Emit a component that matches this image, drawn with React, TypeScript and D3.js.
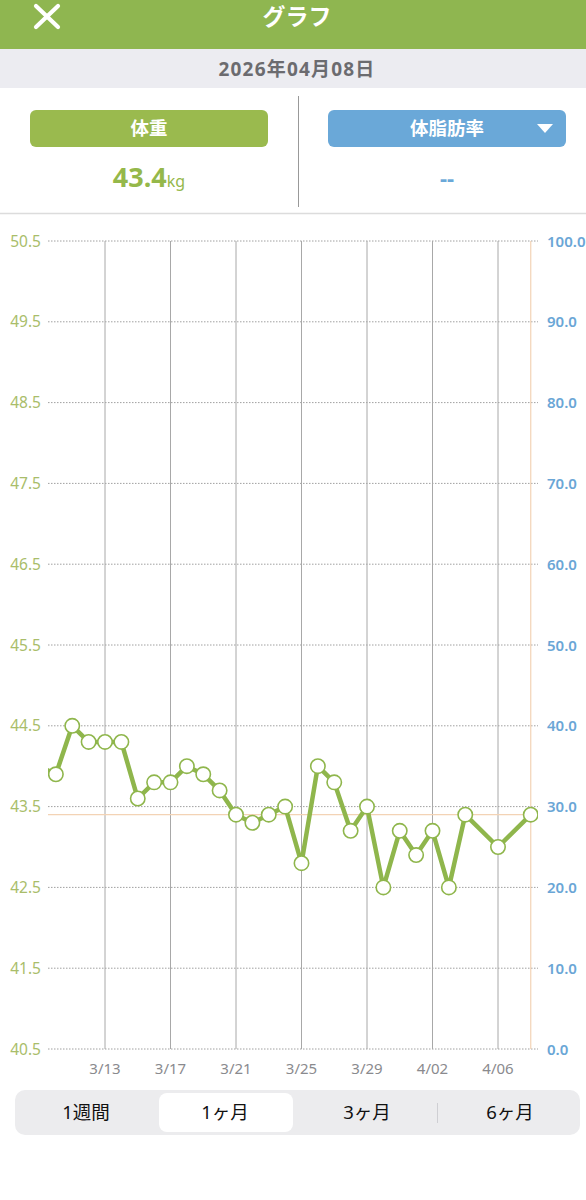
import React, { useEffect } from "react";
import * as d3 from "d3";

// ---- data ----
const dates = ["3/09","3/10","3/11","3/12","3/13","3/14","3/15","3/16","3/17","3/18","3/19","3/20","3/21","3/22","3/23","3/24","3/25","3/26","3/27","3/28","3/29","3/30","3/31","4/01","4/02","4/03","4/04","4/06","4/08"];
const weights = [44.0,43.9,44.5,44.3,44.3,44.3,43.6,43.8,43.8,44.0,43.9,43.7,43.4,43.3,43.4,43.5,42.8,44.0,43.8,43.2,43.5,42.5,43.2,42.9,43.2,42.5,43.4,43.0,43.4];
const xTickLabels = ["3/13","3/17","3/21","3/25","3/29","4/02","4/06"];
const leftTicks = [50.5,49.5,48.5,47.5,46.5,45.5,44.5,43.5,42.5,41.5,40.5];
const rightTicks = [100,90,80,70,60,50,40,30,20,10,0];
const currentDate = "4/08";
const currentWeight = 43.4;
const periods = ["1週間","1ヶ月","3ヶ月","6ヶ月"];

const dayNum = (s: string) => {
  const [m, d] = s.split("/").map(Number);
  return m === 3 ? d : 31 + d;
};

const FONT = "'Noto Sans', 'Noto Sans CJK JP', sans-serif";
const GREEN = "#8fb64c";
const LEFT_C = "#a9bd6a";
const BLUE_C = "#6aa6d6";

export default function App() {
  useEffect(() => {
    document.body.style.margin = "0";
  }, []);

  const W = 586, H = 1200;
  const plotL = 48, plotR = 538, plotT = 241, plotB = 1049;
  const x = d3.scaleLinear().domain([dayNum("3/13"), dayNum("4/06")]).range([105, 498]);
  const y = d3.scaleLinear().domain([40.5, 50.5]).range([plotB, plotT]);
  const y2 = d3.scaleLinear().domain([0, 100]).range([plotB, plotT]);

  const pts = dates.map((d, i) => ({ x: x(dayNum(d)), y: y(weights[i]) }));
  const line = d3.line<{ x: number; y: number }>().x(p => p.x).y(p => p.y)(pts) || "";

  const segW = [15, 580];
  const segCenters = [86, 225, 367, 510];

  return (
    <svg width={W} height={H} style={{ display: "block", fontFamily: FONT }}>
      <defs>
        <clipPath id="plotclip">
          <rect x={plotL} y={plotT - 12} width={plotR - plotL} height={plotB - plotT + 24} />
        </clipPath>
      </defs>
      <rect x={0} y={0} width={W} height={H} fill="#ffffff" />
      {/* header */}
      <rect x={0} y={0} width={W} height={49} fill="#8fb650" />
      <g stroke="#ffffff" strokeWidth={4.2} strokeLinecap="round">
        <line x1={36} y1={6} x2={58} y2={27} />
        <line x1={58} y1={6} x2={36} y2={27} />
      </g>
      <text x={297} y={25} textAnchor="middle" fill="#fff" fontSize={23} fontWeight="bold">グラフ</text>
      {/* date band */}
      <rect x={0} y={49} width={W} height={39} fill="#ececf1" />
      <text x={297} y={76} textAnchor="middle" fill="#6b6b6f" fontSize={19} fontWeight="bold" letterSpacing={1.2}>2026年04月08日</text>
      {/* stats panel */}
      <rect x={30} y={110} width={238} height={37} rx={6} fill="#9aba4e" />
      <text x={149} y={135} textAnchor="middle" fill="#fff" fontSize={18.5} fontWeight="bold">体重</text>
      <text x={149} y={187} textAnchor="middle" fill="#95b84a" fontWeight="bold">
        <tspan fontSize={27}>{currentWeight.toFixed(1)}</tspan>
        <tspan fontSize={16} fontWeight="normal">kg</tspan>
      </text>
      <line x1={298.5} y1={96} x2={298.5} y2={207} stroke="#999" strokeWidth={1} />
      <rect x={328} y={110} width={238} height={37} rx={6} fill="#6aa8d8" />
      <text x={447} y={135} textAnchor="middle" fill="#fff" fontSize={18.5} fontWeight="bold">体脂肪率</text>
      <path d="M537,124 L553,124 L545,133 Z" fill="#fff" />
      <text x={447} y={186} textAnchor="middle" fill="#6aa8d8" fontSize={22} fontWeight="bold">--</text>
      <line x1={0} y1={213.5} x2={W} y2={213.5} stroke="#dcdcdc" strokeWidth={1.5} />

      {/* horizontal grid */}
      {leftTicks.map(t => (
        <line key={"h" + t} x1={plotL} x2={plotR} y1={y(t)} y2={y(t)} stroke="#a0a0a0" strokeWidth={1} strokeDasharray="1.5,1.5" />
      ))}
      {/* vertical grid */}
      {xTickLabels.map(t => (
        <line key={"v" + t} x1={x(dayNum(t))} x2={x(dayNum(t))} y1={plotT} y2={plotB} stroke="#a8a8a8" strokeWidth={1} />
      ))}
      {/* current markers */}
      <line x1={x(dayNum(currentDate))} x2={x(dayNum(currentDate))} y1={plotT} y2={plotB} stroke="#f3d3b5" strokeWidth={1.2} />
      <line x1={plotL} x2={plotR} y1={y(currentWeight)} y2={y(currentWeight)} stroke="#f3d3b5" strokeWidth={1.2} />

      {/* left labels */}
      {leftTicks.map(t => (
        <text key={"l" + t} x={41} y={y(t) + 5.5} textAnchor="end" fill={LEFT_C} fontSize={15.5}>{t.toFixed(1)}</text>
      ))}
      {/* right labels */}
      {rightTicks.map(t => (
        <text key={"r" + t} x={547} y={y2(t) + 5.5} textAnchor="start" fill={BLUE_C} fontSize={15} fontWeight="600">{t.toFixed(1)}</text>
      ))}
      {/* x labels */}
      {xTickLabels.map(t => (
        <text key={"x" + t} x={x(dayNum(t))} y={1074} textAnchor="middle" fill="#8a8a8e" fontSize={15}>{t}</text>
      ))}

      {/* series */}
      <g clipPath="url(#plotclip)">
        <path d={line} fill="none" stroke={GREEN} strokeWidth={4.5} strokeLinejoin="round" />
        {pts.map((p, i) => (
          <circle key={"c" + i} cx={p.x} cy={p.y} r={7.2} fill="#fff" stroke={GREEN} strokeWidth={1.6} />
        ))}
      </g>

      {/* period selector */}
      <rect x={segW[0]} y={1090} width={segW[1] - segW[0]} height={45} rx={10} fill="#ececee" />
      <rect x={159} y={1093} width={134} height={39} rx={8} fill="#fff" />
      <line x1={437.5} x2={437.5} y1={1103} y2={1123} stroke="#cfcfd3" strokeWidth={1} />
      {periods.map((p, i) => (
        <text key={"p" + i} x={segCenters[i]} y={1119} textAnchor="middle" fill="#111" fontSize={18.5}>{p}</text>
      ))}
    </svg>
  );
}
